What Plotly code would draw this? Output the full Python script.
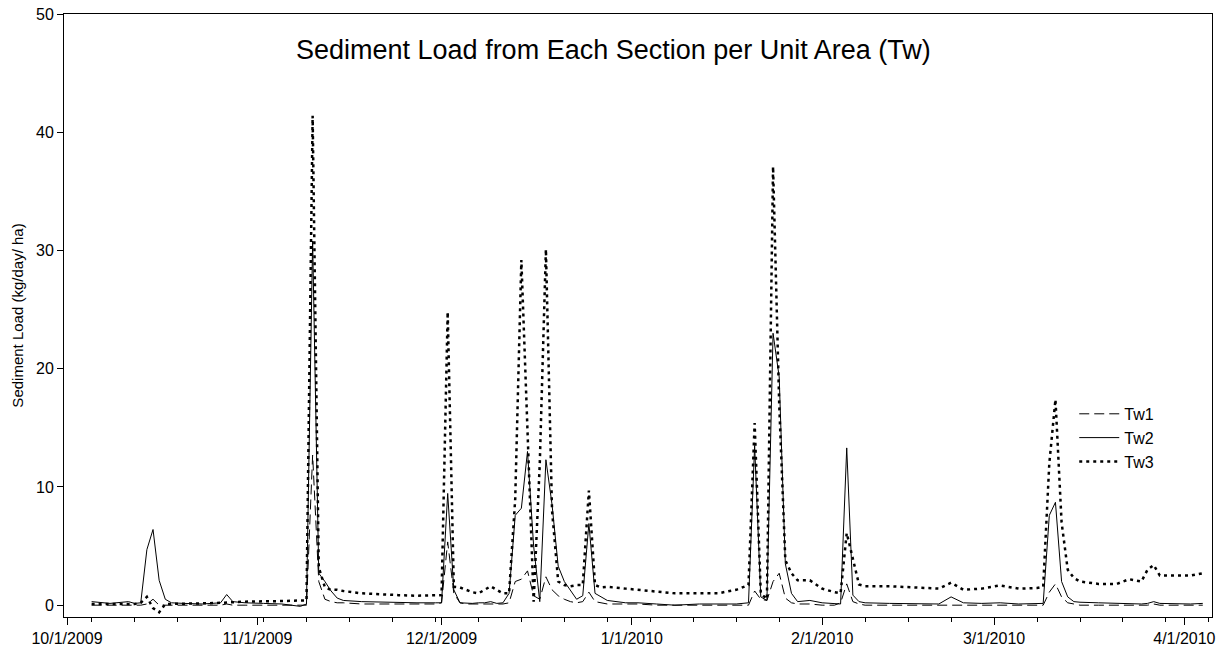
import plotly.graph_objects as go

# Dates (nodes of the polylines) and series values
dates = [
    "2009-10-05", "2009-10-08", "2009-10-11", "2009-10-12", "2009-10-13", "2009-10-14", "2009-10-15",
    "2009-10-16", "2009-10-17", "2009-10-18", "2009-10-20", "2009-10-23", "2009-10-26", "2009-10-27",
    "2009-10-28", "2009-10-30", "2009-11-02", "2009-11-05", "2009-11-08", "2009-11-09", "2009-11-10",
    "2009-11-11", "2009-11-12", "2009-11-13", "2009-11-14", "2009-11-15", "2009-11-18", "2009-11-21",
    "2009-11-24", "2009-11-27", "2009-11-30", "2009-12-01", "2009-12-02", "2009-12-03", "2009-12-04",
    "2009-12-05", "2009-12-06", "2009-12-07", "2009-12-08", "2009-12-09", "2009-12-10", "2009-12-11",
    "2009-12-12", "2009-12-13", "2009-12-14", "2009-12-15", "2009-12-16", "2009-12-17", "2009-12-18",
    "2009-12-19", "2009-12-20", "2009-12-21", "2009-12-22", "2009-12-23", "2009-12-24", "2009-12-25",
    "2009-12-26", "2009-12-27", "2009-12-28", "2009-12-31", "2010-01-02", "2010-01-05", "2010-01-08",
    "2010-01-12", "2010-01-15", "2010-01-18", "2010-01-20", "2010-01-21", "2010-01-22", "2010-01-23",
    "2010-01-24", "2010-01-25", "2010-01-26", "2010-01-27", "2010-01-28", "2010-01-30", "2010-02-01",
    "2010-02-03", "2010-02-04", "2010-02-05", "2010-02-06", "2010-02-07", "2010-02-08", "2010-02-12",
    "2010-02-16", "2010-02-20", "2010-02-22", "2010-02-24", "2010-02-27", "2010-03-02", "2010-03-05",
    "2010-03-08", "2010-03-09", "2010-03-10", "2010-03-11", "2010-03-12", "2010-03-13", "2010-03-14",
    "2010-03-15", "2010-03-18", "2010-03-21", "2010-03-23", "2010-03-25", "2010-03-26", "2010-03-27",
    "2010-03-28", "2010-03-31", "2010-04-02", "2010-04-04",
]

tw1 = [
    0.0, 0.0, 0.0, 0.0, 0.0, 0.1, 0.5,
    0.0, 0.0, 0.0, 0.0, 0.0, 0.0, 0.1,
    0.0, 0.0, 0.0, 0.0, 0.0, 0.0, 12.7,
    2.0, 0.5, 0.3, 0.2, 0.2, 0.1, 0.1,
    0.1, 0.1, 0.1, 0.2, 5.35, 1.0, 0.2,
    0.1, 0.1, 0.1, 0.1, 0.1, 0.1, 0.1,
    0.2, 2.0, 2.2, 2.9, 0.8, 0.5, 2.4,
    1.3, 0.8, 0.5, 0.3, 0.2, 0.3, 1.1,
    0.3, 0.2, 0.1, 0.1, 0.1, 0.0, 0.0,
    0.0, 0.0, 0.0, 0.0, 1.2, 0.5, 0.4,
    2.0, 2.7, 0.6, 0.2, 0.1, 0.1, 0.0,
    0.0, 0.2, 1.8, 0.3, 0.1, 0.0, 0.0,
    0.0, 0.0, 0.0, 0.0, 0.0, 0.0, 0.0,
    0.0, 0.0, 1.1, 1.8, 0.7, 0.2, 0.1,
    0.0, 0.0, 0.0, 0.0, 0.0, 0.0, 0.1,
    0.0, 0.0, 0.0, 0.0,
]

tw2 = [
    0.3, 0.15, 0.3, 0.15, 0.2, 4.7, 6.4,
    2.1, 0.5, 0.2, 0.15, 0.1, 0.2, 0.9,
    0.3, 0.2, 0.15, 0.1, -0.1, 0.1, 30.8,
    2.7, 2.0, 1.2, 0.6, 0.4, 0.3, 0.25,
    0.2, 0.2, 0.2, 0.2, 9.45, 1.3, 0.2,
    0.15, 0.15, 0.2, 0.2, 0.3, 0.15, 0.2,
    1.0, 7.6, 8.2, 13.0, 5.0, 0.3, 12.3,
    8.5, 3.3, 2.0, 1.2, 0.5, 0.8, 6.9,
    1.0, 0.7, 0.4, 0.2, 0.2, 0.1, 0.0,
    0.1, 0.1, 0.1, 0.2, 13.5, 0.7, 0.4,
    23.0, 19.3, 3.5, 1.0, 0.3, 0.4, 0.2,
    0.15, 0.1, 13.3, 0.85, 0.3, 0.2, 0.15,
    0.15, 0.1, 0.7, 0.2, 0.15, 0.2, 0.1,
    0.1, 0.15, 7.6, 8.7, 2.0, 0.7, 0.3,
    0.25, 0.2, 0.15, 0.15, 0.1, 0.15, 0.3,
    0.15, 0.1, 0.1, 0.15,
]

tw3 = [
    0.1, 0.1, 0.15, 0.1, 0.2, 0.7, -0.25,
    -0.6, 0.1, 0.1, 0.15, 0.15, 0.2, 0.2,
    0.25, 0.3, 0.3, 0.35, 0.4, 0.4, 41.4,
    3.2, 1.5, 1.3, 1.3, 1.2, 1.0, 0.9,
    0.85, 0.8, 0.8, 0.85, 24.8, 1.55, 1.5,
    1.3, 1.1, 1.0, 1.3, 1.6, 1.3, 1.0,
    1.0, 9.0, 29.2, 14.0, 0.3, 12.0, 30.1,
    8.0, 2.0, 1.7, 1.6, 1.7, 1.7, 9.7,
    1.7, 1.5, 1.55, 1.4, 1.3, 1.2, 1.0,
    1.0, 1.0, 1.3, 1.7, 15.4, 1.0, 0.5,
    37.1, 17.0, 3.8, 2.7, 2.1, 2.1, 1.4,
    1.1, 1.0, 6.1, 3.8, 1.75, 1.6, 1.6,
    1.5, 1.4, 1.9, 1.3, 1.4, 1.67, 1.4,
    1.45, 1.55, 12.0, 17.4, 7.0, 3.0, 2.3,
    2.0, 1.8, 1.8, 2.2, 2.0, 3.0, 3.4,
    2.5, 2.5, 2.5, 2.7,
]

series_names = ["Tw1", "Tw2", "Tw3"]
series_values = [tw1, tw2, tw3]
series_dash = ["10px,5px", "solid", "3px,4px"]
series_width = [1, 1, 2.5]

title_text = "Sediment Load from Each Section per Unit Area (Tw)"
y_title = "Sediment Load (kg/day/ ha)"
y_ticks = [0, 10, 20, 30, 40, 50]
x_ticks = ["2009-10-01", "2009-11-01", "2009-12-01", "2010-01-01",
           "2010-02-01", "2010-03-01", "2010-04-01"]
x_tick_labels = ["10/1/2009", "11/1/2009", "12/1/2009", "1/1/2010",
                 "2/1/2010", "3/1/2010", "4/1/2010"]

fig = go.Figure()
for name, vals, dash, w in zip(series_names, series_values, series_dash, series_width):
    fig.add_trace(go.Scatter(
        x=dates, y=vals, name=name, mode="lines",
        line=dict(color="black", width=w, dash=dash),
    ))

font_family = "Liberation Sans, Arial, sans-serif"

fig.update_layout(
    width=1220, height=653,
    margin=dict(l=64, r=8, t=14, b=36),
    paper_bgcolor="white", plot_bgcolor="white",
    font=dict(family=font_family, color="black", size=15),
    showlegend=True,
    legend=dict(
        x=0.88, y=0.365, xanchor="left", yanchor="top",
        bgcolor="rgba(0,0,0,0)", font=dict(size=16),
        tracegroupgap=0, itemwidth=40,
    ),
    annotations=[dict(
        text=title_text, xref="paper", yref="paper",
        x=0.479, y=0.94, xanchor="center", yanchor="middle",
        showarrow=False, font=dict(size=27, family=font_family),
    )],
)

fig.update_xaxes(
    type="date", automargin=False, ticklabeloverflow="allow",
    range=["2009-09-30 12:00", "2010-04-05 12:00"],
    tickvals=x_ticks, ticktext=x_tick_labels,
    ticks="outside", ticklen=7, tickwidth=1, tickcolor="black",
    showline=True, linecolor="black", linewidth=1, mirror=True,
    showgrid=False, zeroline=False,
    tickfont=dict(size=16),
    minor=dict(tick0="2009-10-05", dtick=7 * 86400000, ticks="outside",
               ticklen=4, tickcolor="black", showgrid=False),
)
fig.update_yaxes(
    automargin=False, ticklabeloverflow="allow",
    range=[-1.0, 50],
    tickvals=y_ticks,
    ticks="outside", ticklen=6, tickwidth=1, tickcolor="black",
    showline=True, linecolor="black", linewidth=1, mirror=True,
    showgrid=False, zeroline=False,
    tickfont=dict(size=16),
    title=dict(text=y_title, font=dict(size=15), standoff=8),
)

# remove the default 8px page margin so the figure fills the window exactly
fig.write_html(
    "out.html",
    config={"displayModeBar": False},
    post_script="document.body.style.margin='0px';document.body.style.overflow='hidden';",
)
